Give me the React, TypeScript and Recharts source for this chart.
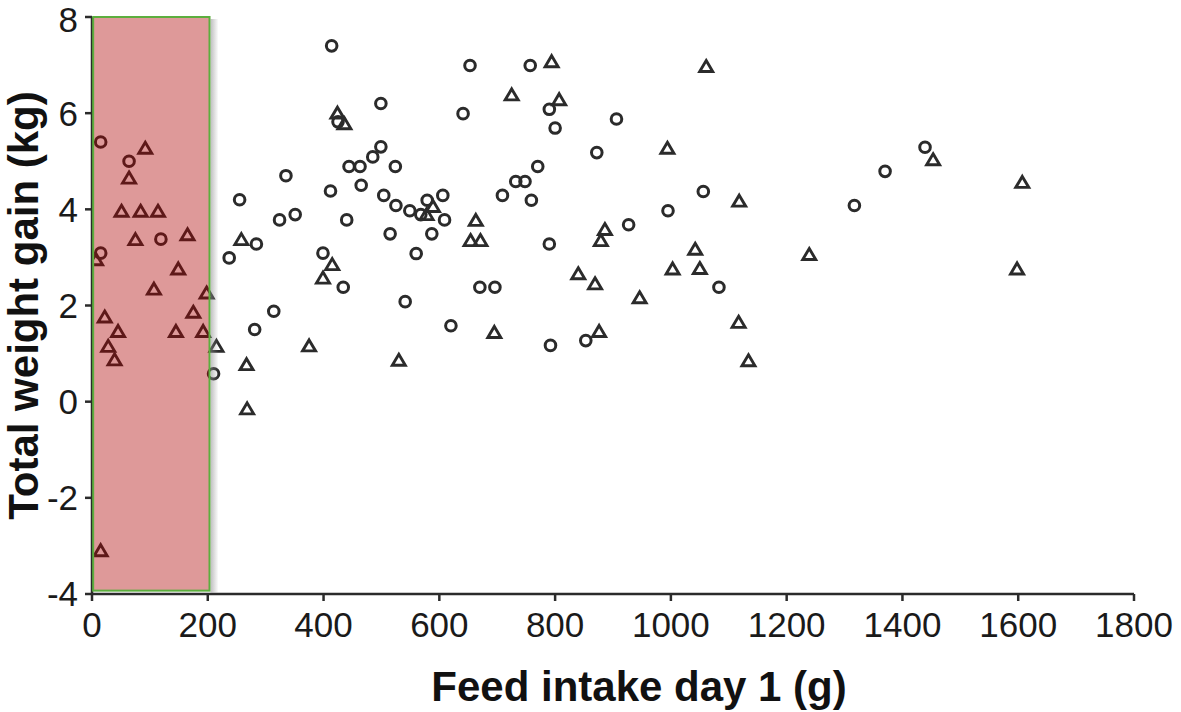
import {
  ScatterChart,
  Scatter,
  XAxis,
  YAxis,
  ReferenceArea,
  Label,
} from "recharts";

// circles
const circleFeed = [
  15, 64, 119, 15, 255, 284, 237, 281, 210, 414, 499, 425, 499, 485, 444, 463,
  524, 335, 412, 465, 504, 525, 549, 579, 568, 606, 609, 324, 351, 440, 515,
  587, 399, 560, 434, 541, 314, 620, 653, 757, 790, 641, 800, 906, 872, 770,
  732, 748, 709, 759, 995, 790, 927, 670, 696, 792, 853, 1056, 1083, 1370,
  1317, 1439,
];
const circleGain = [
  5.4, 5.0, 3.38, 3.09, 4.2, 3.28, 2.99, 1.5, 0.58, 7.4, 6.2, 5.82, 5.3, 5.09,
  4.89, 4.89, 4.89, 4.7, 4.38, 4.5, 4.29, 4.08, 3.97, 4.19, 3.89, 4.29, 3.78,
  3.78, 3.89, 3.78, 3.49, 3.49, 3.09, 3.08, 2.38, 2.08, 1.88, 1.58, 6.99, 6.99,
  6.08, 5.99, 5.69, 5.88, 5.18, 4.89, 4.58, 4.58, 4.29, 4.19, 3.97, 3.28, 3.68,
  2.38, 2.38, 1.17, 1.27, 4.37, 2.38, 4.79, 4.08, 5.29,
];

// triangles
const triangleFeed = [
  92, 64, 51, 84, 114, 75, 165, 7, 149, 107, 198, 175, 22, 45, 145, 192, 28, 39,
  15, 258, 215, 267, 424, 436, 578, 589, 415, 399, 375, 530, 268, 794, 725, 807,
  994, 663, 654, 671, 886, 879, 840, 869, 1003, 946, 695, 876, 1061, 1118, 1042,
  1239, 1050, 1117, 1134, 1453, 1607, 1598,
];
const triangleGain = [
  5.27, 4.65, 3.96, 3.96, 3.96, 3.37, 3.47, 2.95, 2.76, 2.34, 2.26, 1.86, 1.76,
  1.46, 1.46, 1.46, 1.15, 0.87, -3.1, 3.37, 1.15, 0.77, 6.0, 5.78, 3.89, 4.06,
  2.85, 2.57, 1.16, 0.86, -0.15, 7.07, 6.38, 6.28, 5.27, 3.77, 3.35, 3.35, 3.58,
  3.35, 2.66, 2.45, 2.76, 2.16, 1.44, 1.46, 6.97, 4.17, 3.17, 3.06, 2.77, 1.65,
  0.85, 5.03, 4.56, 2.76,
];

const xTicks = [0, 200, 400, 600, 800, 1000, 1200, 1400, 1600, 1800];
const yTicks = [-4, -2, 0, 2, 4, 6, 8];

const circles = circleFeed.map((x, i) => ({ x, y: circleGain[i] }));
const triangles = triangleFeed.map((x, i) => ({ x, y: triangleGain[i] }));

const INK = "#2b2b2b";
const FONT = "'Liberation Sans', Arial, sans-serif";

const CircleMark = (props: any) => (
  <circle
    cx={props.cx}
    cy={props.cy}
    r={5.3}
    fill="none"
    stroke={INK}
    strokeWidth={3}
  />
);

const TriangleMark = (props: any) => {
  const { cx, cy } = props;
  return (
    <path
      d={`M${cx},${cy - 6} L${cx + 6.5},${cy + 5} L${cx - 6.5},${cy + 5} Z`}
      fill="none"
      stroke={INK}
      strokeWidth={2.9}
      strokeLinejoin="miter"
    />
  );
};

// pink highlight box with a soft grey shadow on its right side
const ShadedBox = (props: any) => {
  const { x, y, width, height } = props;
  return (
    <g>
      <defs>
        <linearGradient id="boxShadow" x1="0" y1="0" x2="1" y2="0">
          <stop offset="0%" stopColor="#8a8a8a" stopOpacity={0.55} />
          <stop offset="100%" stopColor="#8a8a8a" stopOpacity={0} />
        </linearGradient>
      </defs>
      <rect x={x + width + 1} y={y + 2} width={8} height={height} fill="url(#boxShadow)" />
      <rect
        x={x}
        y={y}
        width={width}
        height={height}
        fill="#ac0000"
        fillOpacity={0.4}
        stroke="#5cae3e"
        strokeWidth={2}
      />
    </g>
  );
};

export default function App() {
  return (
    <div style={{ position: "absolute", left: 0, top: 0, background: "#fff" }}>
      <ScatterChart
        width={1181}
        height={712}
        margin={{ top: 17, right: 47, left: 0, bottom: 0 }}
      >
        <XAxis
          type="number"
          dataKey="x"
          domain={[0, 1800]}
          ticks={xTicks}
          height={118}
          stroke={INK}
          strokeWidth={2.5}
          tickSize={7}
          tickMargin={11}
          tick={{ fontSize: 35, fill: "#1a1a1a", fontFamily: FONT }}
          allowDataOverflow
        >
          <Label
            value="Feed intake day 1 (g)"
            position="insideBottom"
            offset={11}
            dx={26}
            style={{ fontSize: 42, fontWeight: "bold", fill: "#111", fontFamily: FONT }}
          />
        </XAxis>
        <YAxis
          type="number"
          dataKey="y"
          domain={[-4, 8]}
          ticks={yTicks}
          width={92}
          stroke={INK}
          strokeWidth={2.5}
          tickSize={7}
          tickMargin={7}
          tick={{ fontSize: 35, fill: "#1a1a1a", fontFamily: FONT }}
          allowDataOverflow
        >
          <Label
            value="Total weight gain (kg)"
            angle={-90}
            position="center"
            dx={-23}
            style={{ fontSize: 42, fontWeight: "bold", fill: "#111", fontFamily: FONT }}
          />
        </YAxis>
        <Scatter
          data={circles}
          shape={CircleMark}
          isAnimationActive={false}
        />
        <Scatter
          data={triangles}
          shape={TriangleMark}
          isAnimationActive={false}
        />
        <ReferenceArea
          x1={2}
          x2={203}
          y1={-3.93}
          y2={8}
          shape={ShadedBox}
          zIndex={1000}
        />
      </ScatterChart>
    </div>
  );
}
